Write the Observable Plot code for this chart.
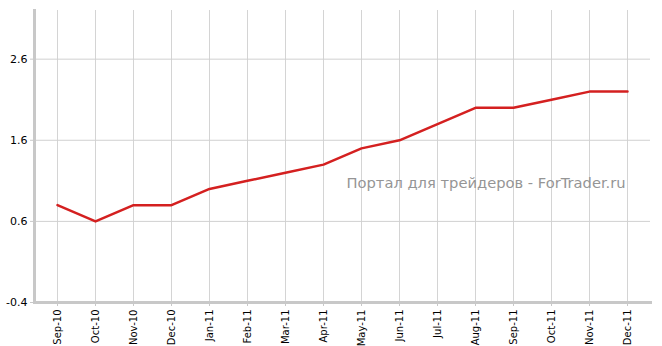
<!DOCTYPE html>
<html>
<head>
<meta charset="utf-8">
<script src="https://cdn.jsdelivr.net/npm/d3@7"></script>
<script src="https://cdn.jsdelivr.net/npm/@observablehq/plot@0.6"></script>
<style>
html, body { margin: 0; padding: 0; background: #fff; }
svg { display: block; }
</style>
</head>
<body>
<div id="chart"></div>
<script>
const months = ["Sep-10","Oct-10","Nov-10","Dec-10","Jan-11","Feb-11","Mar-11","Apr-11","May-11","Jun-11","Jul-11","Aug-11","Sep-11","Oct-11","Nov-11","Dec-11"];
const values = [0.8, 0.6, 0.8, 0.8, 1.0, 1.1, 1.2, 1.3, 1.5, 1.6, 1.8, 2.0, 2.0, 2.1, 2.2, 2.2];
const yTicks = [-0.4, 0.6, 1.6, 2.6];
const watermark = "Портал для трейдеров - ForTrader.ru";

const data = months.map((m, i) => ({month: m, value: values[i]}));

const chart = Plot.plot({
  width: 662,
  height: 346,
  marginLeft: 34,
  marginRight: 12,
  marginTop: 10,
  marginBottom: 44,
  style: {fontFamily: "DejaVu Sans, Verdana, sans-serif", background: "#fff"},
  x: {type: "point", domain: months, range: [54, 630], padding: 0, label: null},
  y: {domain: [-0.4, 3.2], label: null},
  marks: [
    Plot.ruleX(months, {x: d => d, stroke: "#d4d4d4", strokeWidth: 1}),
    Plot.ruleY(yTicks, {y: d => d, stroke: "#d0d0d0", strokeWidth: 1}),
    Plot.axisY({ticks: yTicks, tickSize: 4, tickPadding: 3, tickFormat: d => d.toFixed(1), fontSize: 11, stroke: "#c8c8c8", fill: "#000"}),
    Plot.axisX({ticks: months, tickSize: 4, tickPadding: 3, tickRotate: -90, fontSize: 10, stroke: "#c8c8c8", fill: "#000"}),
    Plot.frame({anchor: "left", stroke: "#c8c8c8", strokeWidth: 3}),
    Plot.frame({anchor: "bottom", stroke: "#c8c8c8", strokeWidth: 3}),
    Plot.text([watermark], {frameAnchor: "middle", text: d => d, textAnchor: "start", dx: 4, dy: 27, fontSize: 14.7, fill: "#959595"}),
    Plot.line(data, {x: "month", y: "value", stroke: "#d42020", strokeWidth: 2.5})
  ]
});
document.getElementById("chart").appendChild(chart);
</script>
</body>
</html>
